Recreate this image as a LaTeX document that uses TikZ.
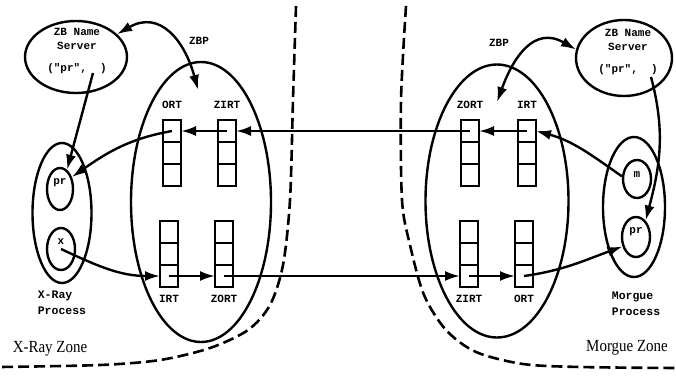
\documentclass[tikz,border=0pt]{standalone}
\usepackage{fontspec}
\usepackage{graphicx}
\setmainfont{Liberation Serif}
\setmonofont{Liberation Mono}
\usetikzlibrary{positioning, arrows.meta, calc, shapes.geometric}

\newcommand{\zonetext}[1]{\scalebox{0.88}[1]{#1}}

\tikzset{
  blob/.style={ellipse, draw, line width=2.4pt, inner sep=0pt},
  cell/.style={rectangle, draw, line width=2.4pt, minimum width=18pt,
               minimum height=22pt, inner sep=0pt, outer sep=0pt},
  tag/.style={font=\ttfamily\bfseries\fontsize{11}{14}\selectfont, inner sep=1pt},
  proc/.style={font=\ttfamily\bfseries\fontsize{11.5}{16}\selectfont, align=left, inner sep=0pt},
  zonetag/.style={font=\fontsize{17}{19}\selectfont, inner sep=0pt},
  link/.style={line width=2.4pt, -{Latex[length=15pt,width=10pt]}},
  twoway/.style={line width=2.4pt, {Latex[length=15pt,width=10pt]}-{Latex[length=15pt,width=10pt]}},
  zoneline/.style={line width=2.6pt, dash pattern=on 11pt off 5pt}
}

\begin{document}
\begin{tikzpicture}[x=1pt, y=-1pt]
  \useasboundingbox (0,0) rectangle (676,375);

  % zone borders
  \draw[zoneline] plot[smooth] coordinates {(296,6) (293,100) (290,200) (283,265)
    (270,305) (248,330) (210,348) (160,360) (100,365) (0,367)};
  \draw[zoneline] plot[smooth] coordinates {(406,6) (401,100) (402,200) (410,245)
    (424,295) (446,330) (476,352) (523,364) (580,367) (676,368)};
  \node[zonetag] (xzone) at (50,349) {\zonetext{X-Ray Zone}};
  \node[zonetag] (mzone) at (627,348) {\zonetext{Morgue Zone}};

  % ZBP ellipses
  \node[blob, minimum width=140pt, minimum height=280pt] (lzbpE) at (201,202) {};
  \node[blob, minimum width=143pt, minimum height=273pt] (rzbpE) at (497,201) {};
  \node[tag] (lzbpL) at (199,41) {ZBP};
  \node[tag] (rzbpL) at (499,43) {ZBP};
  \coordinate (lzbp) at (198,90);
  \coordinate (rzbp) at (497,102);

  % name servers
  \node[blob, minimum width=102pt, minimum height=72pt] (lns) at (76,57) {};
  \node[tag, align=center] (lnsText) at (77,51) {ZB Name\\Server\\[8pt]("pr",~~)};
  \node[blob, minimum width=96pt, minimum height=76pt] (rns) at (624,58) {};
  \node[tag, align=center] (rnsText) at (628,52) {ZB Name\\Server\\[8pt]("pr",~~)};
  \coordinate (lptr) at (93,73);
  \coordinate (rptr) at (651,77);

  % processes
  \node[blob, minimum width=59pt, minimum height=140pt] (xproc) at (62,213) {};
  \node[blob, minimum width=26pt, minimum height=42pt,
        label={[tag, yshift=6pt]center:pr}] (lpr) at (60,189) {};
  \node[blob, minimum width=28pt, minimum height=42pt,
        label={[tag, yshift=7pt]center:x}] (lx) at (61,249) {};
  \node[proc] (xprocL) at (62,303) {X-Ray\\Process};

  \node[blob, minimum width=62pt, minimum height=140pt] (mproc) at (634,207) {};
  \node[blob, minimum width=28pt, minimum height=38pt,
        label={[tag, yshift=4pt]center:m}] (rm) at (637,179) {};
  \node[blob, minimum width=28pt, minimum height=40pt,
        label={[tag, yshift=5pt]center:pr}] (rpr) at (636,237) {};
  \node[proc] (mprocL) at (636,304) {Morgue\\Process};

  % register tables
  \foreach \n/\x/\y in {lort/172/131, lzirt/227/131, lirt/169/232, lzort/224/232,
                        rzort/470/131, rirt/527/131, rzirt/469/232, rort/524/232} {
    \node[cell] (\n1) at (\x,\y) {};
    \node[cell, below=0pt of \n1] (\n2) {};
    \node[cell, below=0pt of \n2] (\n3) {};
  }
  \node[tag, above=10pt of lort1] (lortL) {ORT};
  \node[tag, above=10pt of lzirt1] (lzirtL) {ZIRT};
  \node[tag, above=10pt of rzort1] (rzortL) {ZORT};
  \node[tag, above=10pt of rirt1] (rirtL) {IRT};
  \node[tag, below=7pt of lirt3] (lirtL) {IRT};
  \node[tag, below=7pt of lzort3] (lzortL) {ZORT};
  \node[tag, below=7pt of rzirt3] (rzirtL) {ZIRT};
  \node[tag, below=7pt of rort3] (rortL) {ORT};

  % connections
  \draw[twoway] (lzbp) to[out=105, in=30, looseness=1.3] (lns.29);
  \draw[twoway] (rzbp) to[out=70, in=150, looseness=1.3] (rns.170);
  \draw[link] (lptr) -- (lpr.70);
  \draw[link] (rptr) to[out=-75, in=75] (rpr.60);
  \draw[link] (rzort1.center) -- (lzirt1.east);
  \draw[link] (lzirt1.center) -- (lort1.east);
  \draw[link] (lort1.center) to[out=190, in=35] (lpr.45);
  \draw[link] (rirt1.center) -- (rzort1.east);
  \draw[link] (rm.170) to[out=145, in=-15] (rirt1.east);
  \draw[link] (lx.center) to[out=-25, in=180] (lirt3.west);
  \draw[link] (lirt3.center) -- (lzort3.west);
  \draw[link] (lzort3.center) -- (rzirt3.west);
  \draw[link] (rzirt3.center) -- (rort3.west);
  \draw[link] (rort3.center) to[out=8, in=200] (rpr.215);
\end{tikzpicture}
\end{document}
